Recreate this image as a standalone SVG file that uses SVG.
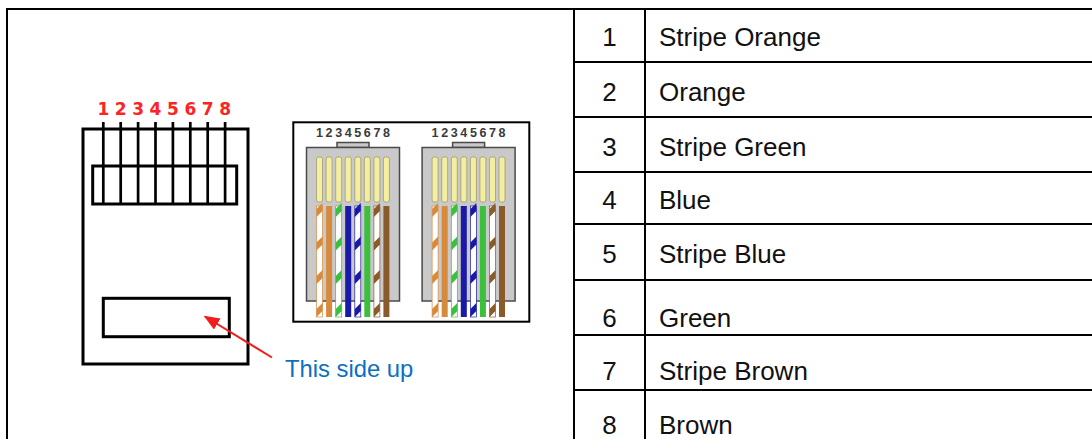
<svg xmlns="http://www.w3.org/2000/svg" xmlns:xlink="http://www.w3.org/1999/xlink" width="1092" height="439" viewBox="0 0 1092 439">
<style>
.frame{stroke:#000;stroke-width:2;fill:none}
.tt{font-family:"Liberation Sans",Arial,sans-serif;font-size:26px;fill:#111}
.num{text-anchor:middle}
.blk{stroke:#000;stroke-width:3;fill:none}
.pin{stroke:#000;stroke-width:2.7}
.rednum{font-family:"DejaVu Sans",Verdana,sans-serif;font-weight:bold;font-size:17px;fill:#f22;text-anchor:middle}
.pnum{font-family:"Liberation Sans",Arial,sans-serif;font-weight:bold;font-size:12.5px;fill:#3a3a3a;text-anchor:middle}
.body{fill:#c9c9c9;stroke:#4a4a4a;stroke-width:1.5}
.contact{fill:#f3eea0;stroke:#9f9a72;stroke-width:0.8}
.note{font-family:"Liberation Sans",Arial,sans-serif;font-size:23.8px;fill:#0a70c0}
</style>
<defs>
<marker id="arrowhead" viewBox="0 0 10 8" refX="9" refY="4" markerWidth="8" markerHeight="6.5" orient="auto" markerUnits="strokeWidth">
<path d="M0,0 L10,4 L0,8 Z" fill="#f21d1d"/>
</marker>
<path id="band" d="M0,6 L6,0 L6,8 L0,14 Z"/>
<g id="plug">
<rect class="body" x="337" y="142.5" width="32" height="5"/>
<rect class="body" x="306.5" y="147.5" width="93" height="153.5"/>
<text class="pnum" x="319.5 329.1 338.7 348.2 357.8 367.3 376.9 386.4" y="137">12345678</text>
<rect class="contact" x="316.5" y="157" width="6" height="45" rx="2"/>
<rect class="contact" x="326.1" y="157" width="6" height="45" rx="2"/>
<rect class="contact" x="335.7" y="157" width="6" height="45" rx="2"/>
<rect class="contact" x="345.2" y="157" width="6" height="45" rx="2"/>
<rect class="contact" x="354.8" y="157" width="6" height="45" rx="2"/>
<rect class="contact" x="364.3" y="157" width="6" height="45" rx="2"/>
<rect class="contact" x="373.9" y="157" width="6" height="45" rx="2"/>
<rect class="contact" x="383.4" y="157" width="6" height="45" rx="2"/>
<rect x="316.5" y="206" width="6" height="111" fill="#fff" stroke="#d88a3c" stroke-width="0.7"/>
<g fill="#d88a3c"><use xlink:href="#band" x="316.5" y="203"/><use xlink:href="#band" x="316.5" y="236.5"/><use xlink:href="#band" x="316.5" y="270"/><use xlink:href="#band" x="316.5" y="303"/></g>
<rect x="326.1" y="206" width="6" height="111" fill="#d88a3c"/>
<rect x="335.7" y="206" width="6" height="111" fill="#fff" stroke="#3cbf3c" stroke-width="0.7"/>
<g fill="#3cbf3c"><use xlink:href="#band" x="335.7" y="203"/><use xlink:href="#band" x="335.7" y="236.5"/><use xlink:href="#band" x="335.7" y="270"/><use xlink:href="#band" x="335.7" y="303"/></g>
<rect x="345.2" y="206" width="6" height="111" fill="#1a1aa8"/>
<rect x="354.8" y="206" width="6" height="111" fill="#fff" stroke="#1a1aa8" stroke-width="0.7"/>
<g fill="#1a1aa8"><use xlink:href="#band" x="354.8" y="203"/><use xlink:href="#band" x="354.8" y="236.5"/><use xlink:href="#band" x="354.8" y="270"/><use xlink:href="#band" x="354.8" y="303"/></g>
<rect x="364.3" y="206" width="6" height="111" fill="#3cbf3c"/>
<rect x="373.9" y="206" width="6" height="111" fill="#fff" stroke="#8b5a2b" stroke-width="0.7"/>
<g fill="#8b5a2b"><use xlink:href="#band" x="373.9" y="203"/><use xlink:href="#band" x="373.9" y="236.5"/><use xlink:href="#band" x="373.9" y="270"/><use xlink:href="#band" x="373.9" y="303"/></g>
<rect x="383.4" y="206" width="6" height="111" fill="#8b5a2b"/>
</g>
</defs>

<g id="table-frame">
<line class="frame" x1="6" y1="9" x2="1092" y2="9"/>
<line class="frame" x1="7" y1="8" x2="7" y2="439"/>
<line class="frame" x1="574" y1="9" x2="574" y2="439"/>
<line class="frame" x1="645" y1="9" x2="645" y2="439"/>
<line class="frame" x1="574" y1="62" x2="1092" y2="62"/>
<line class="frame" x1="574" y1="117" x2="1092" y2="117"/>
<line class="frame" x1="574" y1="172" x2="1092" y2="172"/>
<line class="frame" x1="574" y1="224" x2="1092" y2="224"/>
<line class="frame" x1="574" y1="280" x2="1092" y2="280"/>
<line class="frame" x1="574" y1="335" x2="1092" y2="335"/>
<line class="frame" x1="574" y1="390" x2="1092" y2="390"/>
</g>

<g id="table-rows">
<g id="row1"><text class="tt num" x="609.5" y="46">1</text><text class="tt" x="659" y="46">Stripe Orange</text></g>
<g id="row2"><text class="tt num" x="609.5" y="101">2</text><text class="tt" x="659" y="101">Orange</text></g>
<g id="row3"><text class="tt num" x="609.5" y="156">3</text><text class="tt" x="659" y="156">Stripe Green</text></g>
<g id="row4"><text class="tt num" x="609.5" y="209">4</text><text class="tt" x="659" y="209">Blue</text></g>
<g id="row5"><text class="tt num" x="609.5" y="263">5</text><text class="tt" x="659" y="263">Stripe Blue</text></g>
<g id="row6"><text class="tt num" x="609.5" y="327">6</text><text class="tt" x="659" y="327">Green</text></g>
<g id="row7"><text class="tt num" x="609.5" y="380">7</text><text class="tt" x="659" y="380">Stripe Brown</text></g>
<g id="row8"><text class="tt num" x="609.5" y="434">8</text><text class="tt" x="659" y="434">Brown</text></g>
</g>

<g id="plug-outline">
<text class="rednum" x="103.3 120.7 138.1 155.5 172.9 190.3 207.7 225.1" y="115">12345678</text>
<rect class="blk" x="83" y="129" width="165" height="235"/>
<rect class="blk" x="92.7" y="166" width="144" height="38"/>
<g class="pin">
<line x1="103.3" y1="122" x2="103.3" y2="204"/>
<line x1="120.7" y1="122" x2="120.7" y2="204"/>
<line x1="138.1" y1="122" x2="138.1" y2="204"/>
<line x1="155.5" y1="122" x2="155.5" y2="204"/>
<line x1="172.9" y1="122" x2="172.9" y2="204"/>
<line x1="190.3" y1="122" x2="190.3" y2="204"/>
<line x1="207.7" y1="122" x2="207.7" y2="204"/>
<line x1="225.1" y1="122" x2="225.1" y2="204"/>
</g>
<rect id="latch-window" class="blk" x="103.3" y="298.3" width="126" height="38.4"/>
</g>

<g id="wiring-photo">
<rect x="293.3" y="122.3" width="236" height="199.4" fill="#fff" stroke="#000" stroke-width="2"/>
<use id="plug-left" xlink:href="#plug"/>
<use id="plug-right" xlink:href="#plug" x="115.6"/>
</g>

<g id="connectors">
<line x1="272" y1="357.5" x2="205" y2="316.5" stroke="#f21d1d" stroke-width="2" marker-end="url(#arrowhead)"/>
</g>

<g id="note">
<text class="note" x="285" y="377">This side up</text>
</g>
</svg>
